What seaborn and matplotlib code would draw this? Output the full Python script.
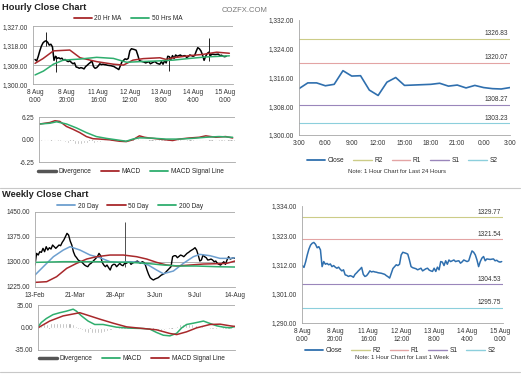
import matplotlib
matplotlib.use("Agg")
import matplotlib.pyplot as plt
from matplotlib.lines import Line2D
import seaborn as sns
import numpy as np

# ---- data ----
# hourly closes, 8 Aug 0:00 -> 15 Aug ~1:00 (trading hours)
hour_close = [
    1311.6, 1310.9, 1313.0, 1315.6, 1317.8, 1319.3, 1320.0, 1320.3, 1319.6, 1318.3,
    1318.7, 1317.5, 1311.2, 1313.1, 1312.1, 1312.4, 1311.9, 1312.2, 1311.2, 1311.6,
    1311.0, 1310.6, 1311.0, 1310.2, 1309.6, 1310.0, 1308.1, 1307.9, 1307.5, 1307.8,
    1307.6, 1307.2, 1308.3, 1308.9, 1309.6, 1310.2, 1310.9, 1308.3, 1307.5, 1307.8,
    1308.6, 1309.6, 1309.2, 1309.4, 1309.2, 1309.1, 1308.9, 1308.8, 1308.7, 1308.5,
    1308.3, 1307.8, 1307.4, 1306.9, 1308.7, 1310.5, 1311.2, 1311.9, 1311.6, 1312.1,
    1315.6, 1316.6, 1316.4, 1316.2, 1315.9, 1313.7, 1311.2, 1310.8, 1310.6, 1310.4,
    1310.0, 1310.3, 1310.6, 1309.6, 1310.0, 1310.4, 1310.6, 1309.9, 1309.6, 1309.4,
    1310.6, 1309.4, 1311.0, 1310.0, 1313.1, 1312.9, 1311.6, 1313.4, 1312.1, 1313.7,
    1313.1, 1313.4, 1313.7, 1313.1, 1313.3, 1313.4, 1312.5, 1313.0, 1313.7, 1313.4,
    1313.1, 1313.4, 1315.4, 1317.1, 1316.6, 1315.6, 1313.7, 1311.2, 1313.1, 1314.4,
    1315.0, 1313.4, 1314.1, 1314.0, 1313.9, 1314.0, 1314.1, 1313.4, 1313.6, 1313.1,
    1312.9, 1313.1,
]
spike_hour = [7, 13, 85, 110]
spike_high = [1324.3, 1313.0, 1313.0, 1321.8]
spike_low = [1318.0, 1306.0, 1306.4, 1311.0]

ma20_hour = [0, 5, 11.6, 22, 28.5, 39, 49.6, 56, 62, 68.5, 79, 83, 87.5, 98, 106.5, 115, 123]
ma20_val = [1309.8, 1312.0, 1315.6, 1316.0, 1312.4, 1310.6, 1309.4, 1309.0, 1311.3, 1312.0,
            1312.4, 1311.6, 1312.4, 1313.4, 1314.0, 1315.0, 1314.5]
ma50_hour = [0, 5.3, 11.6, 17.9, 28.5, 39, 49.6, 58, 66.5, 77, 87.5, 98, 108.6, 123]
ma50_val = [1304.4, 1306.2, 1309.4, 1311.3, 1311.8, 1312.6, 1312.1, 1310.3, 1310.6, 1310.9,
            1311.3, 1312.1, 1312.8, 1313.3]

hmacd_hour = [0, 6.3, 9.5, 12.6, 16.8, 21, 25.2, 29.4, 33.6, 37.8, 44.1, 50.4, 54.6, 58.8,
              63, 66.2, 69.3, 75.6, 84, 88.2, 94.5, 100.8, 105, 111.3, 117.6, 122]
hmacd_val = [4.4, 4.8, 5.3, 5.1, 3.7, 2.9, 2.0, 0.9, 0.3, 0.2, 0.0, -0.4, -0.5, 0.0,
             1.1, 0.7, 0.5, 0.2, -0.2, 0.2, 0.5, 0.7, 1.1, 0.7, 0.9, 0.5]
hsig_hour = [0, 6.3, 10.5, 16.8, 23.1, 29.4, 35.7, 42, 48.3, 54.6, 58.8, 63, 71.4, 79.8,
             88.2, 96.6, 105, 113.4, 122]
hsig_val = [4.4, 4.6, 5.0, 4.4, 3.3, 2.0, 0.9, 0.4, 0.0, -0.4, 0.2, 0.55, 0.45, 0.2,
            0.2, 0.4, 0.7, 0.9, 0.7]
hdiv_hour = list(range(0, 124, 2))
hdiv_val = [0.0, 0.1, 0.2, 0.3, 0.3, 0.2, 0.0, -0.4, -0.7, -0.9, -1.0, -1.1, -1.1, -1.1,
            -1.0, -1.0, -0.9, -0.8, -0.6, -0.5, -0.4, -0.3, -0.2, -0.2, -0.2, -0.2, -0.1,
            -0.1, 0.0, 0.1, 0.3, 0.4, 0.3, 0.2, 0.1, 0.0, 0.0, 0.1, 0.0, -0.1, -0.1, 0.0,
            0.1, 0.1, 0.0, 0.1, 0.1, 0.0, 0.0, 0.1, 0.1, 0.2, 0.1, 0.1, 0.0, 0.1, 0.1,
            0.0, 0.0, 0.1, 0.0, 0.0]

# last 24 hours
day_close = [1312.9, 1314.5, 1314.5, 1313.7, 1314.1, 1317.9, 1316.4, 1316.5, 1312.5, 1311.0,
             1314.7, 1316.0, 1313.8, 1313.9, 1314.0, 1314.1, 1314.4, 1313.6, 1313.9, 1313.1,
             1313.8, 1313.2, 1312.9, 1312.8, 1313.2]
day_ticks = ["3:00", "6:00", "9:00", "12:00", "15:00", "18:00", "21:00", "0:00", "3:00"]
day_levels = [1326.83, 1320.07, 1308.27, 1303.23]
week_levels = [1329.77, 1321.54, 1304.53, 1295.75]
level_names = ["R2", "R1", "S1", "S2"]

hour_ticks = ["8 Aug\n0:00", "8 Aug\n20:00", "11 Aug\n16:00", "12 Aug\n12:00",
              "13 Aug\n8:00", "14 Aug\n4:00", "15 Aug\n0:00"]

# daily closes 13-Feb -> 14-Aug
daily_close = [
    1290, 1325, 1320, 1330, 1328, 1340, 1330, 1345, 1335, 1342,
    1338, 1350, 1345, 1340, 1345, 1350, 1348, 1358, 1365, 1375,
    1385, 1380, 1362, 1350, 1330, 1318, 1312, 1305, 1302, 1300,
    1295, 1290, 1287, 1285, 1292, 1295, 1300, 1305, 1310, 1315,
    1325, 1318, 1298, 1290, 1285, 1290, 1282, 1275, 1288, 1292,
    1292, 1285, 1290, 1295, 1290, 1288, 1295, 1295, 1298, 1300,
    1292, 1296, 1298, 1300, 1302, 1298, 1295, 1300, 1298, 1290,
    1275, 1262, 1252, 1248, 1245, 1248, 1250, 1252, 1256, 1260,
    1262, 1265, 1270, 1275, 1280, 1285, 1315, 1318, 1318, 1312,
    1316, 1320, 1318, 1315, 1320, 1325, 1328, 1332, 1335, 1338,
    1342, 1335, 1320, 1302, 1305, 1320, 1315, 1312, 1305, 1306,
    1308, 1305, 1300, 1302, 1295, 1292, 1290, 1295, 1300, 1292,
    1305, 1315, 1308, 1310, 1312, 1310,
]
daily_spike_day = [56]
daily_spike_high = [1418]
daily_spike_low = [1285]
daily_ticks = ["13-Feb", "21-Mar", "28-Apr", "3-Jun", "9-Jul", "14-Aug"]

ma20d_day = [0, 5.2, 11.5, 17.7, 21.9, 28.1, 34.4, 40.6, 46.9, 53.1, 59.4, 65.6, 70.8, 76,
             80.2, 86.5, 92.7, 99, 103, 109.4, 115.6, 121.9, 125]
ma20d_val = [1260, 1285, 1315, 1335, 1345, 1335, 1320, 1312, 1300, 1298, 1300, 1298, 1290,
             1275, 1264, 1272, 1295, 1315, 1322, 1318, 1310, 1310, 1312]
ma50d_day = [0, 7.3, 13.5, 19.8, 26, 32.3, 38.5, 46.9, 55.2, 63.5, 69.8, 76, 82.3, 88.5,
             96.9, 105.2, 113.5, 119.8, 125]
ma50d_val = [1238, 1240, 1255, 1280, 1295, 1308, 1315, 1320, 1320, 1315, 1308, 1298, 1290,
             1287, 1290, 1293, 1294, 1295, 1302]
ma200d_day = [0, 17.7, 38.5, 59.4, 69.8, 80.2, 90.6, 101, 113.5, 125]
ma200d_val = [1298, 1300, 1300, 1298, 1295, 1290, 1287, 1287, 1285, 1284]

dmacd_day = [0, 2.1, 5.3, 9.5, 13.8, 18, 22.3, 24.4, 27.6, 31.8, 36, 41.3, 45.6, 49.8,
             58.3, 66.8, 71, 75.3, 79.5, 83.7, 88, 91.2, 94.3, 98.6, 105, 109.2, 113.4,
             117.7, 121.9, 125]
dmacd_val = [1, 7.8, 14, 20, 23, 25.4, 28.5, 25.4, 18, 10, 4.7, 4.7, 2.6, 0.5,
             -1, -1.6, -2.6, -7.8, -12, -13, -9, -0.5, 4.7, 6.7, 10, 6.2, 2.6,
             0.5, -0.5, 1.6]
dsig_day = [0, 7.4, 15.9, 26.5, 32.9, 39.2, 47.7, 56.2, 66.8, 75.3, 83.7, 88, 94.3, 100.7,
            109.2, 115.5, 121.9, 125]
dsig_val = [-0.5, 10, 18, 23, 18, 13, 6.7, 1, -1.6, -3.6, -9.3, -11, -6.7, -0.5,
            4.7, 5.2, 2.6, 1.6]
ddiv_day = list(range(0, 126, 2))
ddiv_val = [1.5, 3, 5, 6, 7, 7.5, 7, 6.5, 6.5, 7, 7, 6, 3, -1, -4, -7, -8, -9, -9, -8,
            -8, -7, -5, -4, -3, -2, -1.5, -1, -1, -1, -0.5, 0, 0, 0, -0.5, -1, -3, -4,
            -5, -5, -4, -3, -1, 1, 3, 5, 6, 7, 6, 5, 4, 3, 2, 1, 0.5, -0.5, -1.5, -2.5,
            -2, -1, -1, 0, 0.5]

# ---- style ----
RED = "#a8282b"
GREEN = "#2fae6e"
BLUE = "#2f6fae"
LBLUE = "#6d9fcf"
GRAY = "#a6a6a6"
level_colors = ["#cccc88", "#e3a4a4", "#9a86bb", "#8ccfdc"]
TXT = "#333333"
FS = 4.7

sns.set_style("white")
plt.rcParams['font.family'] = ['Liberation Sans', 'DejaVu Sans']

W, H = 524, 376
fig = plt.figure(figsize=(W / 100, H / 100), dpi=100)


def panel(x0, y0, x1, y1):
    return fig.add_axes([x0 / W, 1 - y1 / H, (x1 - x0) / W, (y1 - y0) / H])


def style(ax, grid=True):
    for s in ["top", "right"]:
        ax.spines[s].set_visible(False)
    for s in ["left", "bottom"]:
        ax.spines[s].set_color(GRAY)
        ax.spines[s].set_linewidth(0.6)
    ax.tick_params(axis="both", labelsize=FS, colors=GRAY, labelcolor=TXT,
                   length=2, width=0.5, pad=1.5)
    if grid:
        ax.yaxis.grid(True, color=GRAY, linewidth=0.6)
        ax.set_axisbelow(True)
    ax.set_xlabel("")
    ax.set_ylabel("")


def legend(handles, labels, cx, cy, ncol):
    fig.legend(handles, labels, loc="center", bbox_to_anchor=(cx / W, 1 - cy / H),
               ncol=ncol, frameon=False, fontsize=FS, handlelength=2.8,
               columnspacing=1.4, handletextpad=0.4, borderpad=0, borderaxespad=0)


def fmt(vals, comma=True):
    return [f"{v:,.2f}" if comma else f"{v:.2f}" for v in vals]


# titles
fig.text(2 / W, 1 - 8 / H, "Hourly Close Chart", fontsize=6.7, fontweight="bold",
         va="center", color="#222222")
fig.text(2 / W, 1 - 195 / H, "Weekly Close Chart", fontsize=6.7, fontweight="bold",
         va="center", color="#222222")
fig.text(222 / W, 1 - 10 / H, "COZFX.COM", fontsize=5.5, va="center", color="#777777")

# separators
for yy in [188, 372]:
    fig.add_artist(Line2D([0, 520 / W], [1 - yy / H, 1 - yy / H], color="#c8c8c8", lw=0.8))

hours = np.arange(len(hour_close))

# ---- A: hourly price ----
ax = panel(33, 26.4, 233, 84.4)
style(ax)
ax.vlines(spike_hour, spike_low, spike_high, color="black", lw=0.6)
sns.lineplot(x=hours, y=hour_close, ax=ax, color="black", linewidth=1.1)
sns.lineplot(x=ma20_hour, y=ma20_val, ax=ax, color=RED, linewidth=1.1)
sns.lineplot(x=ma50_hour, y=ma50_val, ax=ax, color=GREEN, linewidth=1.1)
ax.set_ylim(1300, 1327)
ax.set_yticks([1300, 1309, 1318, 1327])
ax.set_yticklabels(fmt([1300, 1309, 1318, 1327]))
ax.set_xlim(-1.3, 125.3)
ax.set_xticks(range(0, 121, 20))
ax.set_xticklabels(hour_ticks, linespacing=1.2)
legend([Line2D([], [], color=RED, lw=1.3), Line2D([], [], color=GREEN, lw=1.3)],
       ["20 Hr MA", "50 Hrs MA"], 128, 19, 2)

# ---- B: hourly MACD ----
ax = panel(39, 117.3, 235, 162.3)
style(ax)
ax.bar(hdiv_hour, hdiv_val, width=1.2, color=GRAY)
sns.lineplot(x=hmacd_hour, y=hmacd_val, ax=ax, color=RED, linewidth=1.1)
sns.lineplot(x=hsig_hour, y=hsig_val, ax=ax, color=GREEN, linewidth=1.1)
ax.set_ylim(-6.25, 6.25)
ax.set_yticks([-6.25, 0, 6.25])
ax.set_yticklabels(["-6.25", "0.00", "6.25"])
ax.set_xlim(-0.6, 123.5)
ax.set_xticks([])
legend([Line2D([], [], color="#555555", lw=2.5), Line2D([], [], color=RED, lw=1.3),
        Line2D([], [], color=GREEN, lw=1.3)],
       ["Divergence", "MACD", "MACD Signal Line"], 131, 172, 3)

# ---- C: last 24 hours ----
ax = panel(299, 20, 510, 135)
style(ax, grid=False)
for lv, c in zip(day_levels, level_colors):
    ax.axhline(lv, color=c, lw=0.8)
    ax.text(23.8, lv + 0.5, f"{lv:.2f}", ha="right", va="bottom", fontsize=FS, color=TXT)
sns.lineplot(x=np.arange(len(day_close)), y=day_close, ax=ax, color=BLUE, linewidth=1.2)
ax.set_ylim(1300, 1332)
ax.set_yticks([1300, 1308, 1316, 1324, 1332])
ax.set_yticklabels(fmt([1300, 1308, 1316, 1324, 1332]))
ax.set_xlim(0, 24)
ax.set_xticks(range(0, 25, 3))
ax.set_xticklabels(day_ticks)
legend([Line2D([], [], color=BLUE, lw=1.3)] +
       [Line2D([], [], color=c, lw=1.0) for c in level_colors],
       ["Close"] + level_names, 402, 161, 5)
fig.text(397 / W, 1 - 172 / H, "Note: 1 Hour Chart for Last 24 Hours", fontsize=FS - 0.4,
         ha="center", va="center", color=TXT)

# ---- D: weekly (daily) price ----
days = np.arange(len(daily_close))
ax = panel(35, 211.7, 235, 286.7)
style(ax)
ax.vlines(daily_spike_day, daily_spike_low, daily_spike_high, color="#333333", lw=0.6)
sns.lineplot(x=days, y=daily_close, ax=ax, color="black", linewidth=1.0)
sns.lineplot(x=ma20d_day, y=ma20d_val, ax=ax, color=LBLUE, linewidth=1.1)
sns.lineplot(x=ma50d_day, y=ma50d_val, ax=ax, color=RED, linewidth=1.1)
sns.lineplot(x=ma200d_day, y=ma200d_val, ax=ax, color=GREEN, linewidth=1.1)
ax.set_ylim(1225, 1450)
ax.set_yticks([1225, 1300, 1375, 1450])
ax.set_yticklabels(fmt([1225, 1300, 1375, 1450], comma=False))
ax.set_xlim(0, 125)
ax.set_xticks(range(0, 126, 25))
ax.set_xticklabels(daily_ticks)
legend([Line2D([], [], color=LBLUE, lw=1.3), Line2D([], [], color=RED, lw=1.3),
        Line2D([], [], color=GREEN, lw=1.3)],
       ["20 Day", "50 Day", "200 Day"], 130, 206, 3)

# ---- E: weekly MACD ----
ax = panel(38, 305, 235, 350)
style(ax)
ax.bar(ddiv_day, ddiv_val, width=1.3, color=GRAY)
sns.lineplot(x=dmacd_day, y=dmacd_val, ax=ax, color=GREEN, linewidth=1.1)
sns.lineplot(x=dsig_day, y=dsig_val, ax=ax, color=RED, linewidth=1.1)
ax.set_ylim(-35, 35)
ax.set_yticks([-35, 0, 35])
ax.set_yticklabels(["-35.00", "0.00", "35.00"])
ax.set_xlim(0, 125)
ax.set_xticks([])
legend([Line2D([], [], color="#555555", lw=2.5), Line2D([], [], color=GREEN, lw=1.3),
        Line2D([], [], color=RED, lw=1.3)],
       ["Divergence", "MACD", "MACD Signal Line"], 132, 359, 3)

# ---- F: last week hourly ----
ax = panel(302, 206, 503, 323)
style(ax, grid=False)
for lv, c in zip(week_levels, level_colors):
    ax.axhline(lv, color=c, lw=0.8)
    ax.text(120.5, lv + 0.5, f"{lv:.2f}", ha="right", va="bottom", fontsize=FS, color=TXT)
sns.lineplot(x=hours, y=hour_close, ax=ax, color=BLUE, linewidth=1.1)
ax.set_ylim(1290, 1334)
ax.set_yticks([1290, 1301, 1312, 1323, 1334])
ax.set_yticklabels(fmt([1290, 1301, 1312, 1323, 1334]))
ax.set_xlim(-0.2, 121.8)
ax.set_xticks(range(0, 121, 20))
ax.set_xticklabels(hour_ticks, linespacing=1.2)
legend([Line2D([], [], color=BLUE, lw=1.3)] +
       [Line2D([], [], color=c, lw=1.0) for c in level_colors],
       ["Close"] + level_names, 400, 350.5, 5)
fig.text(402 / W, 1 - 357.5 / H, "Note: 1 Hour Chart for Last 1 Week", fontsize=FS - 0.4,
         ha="center", va="center", color=TXT)

fig.savefig("out.png", dpi=100)
